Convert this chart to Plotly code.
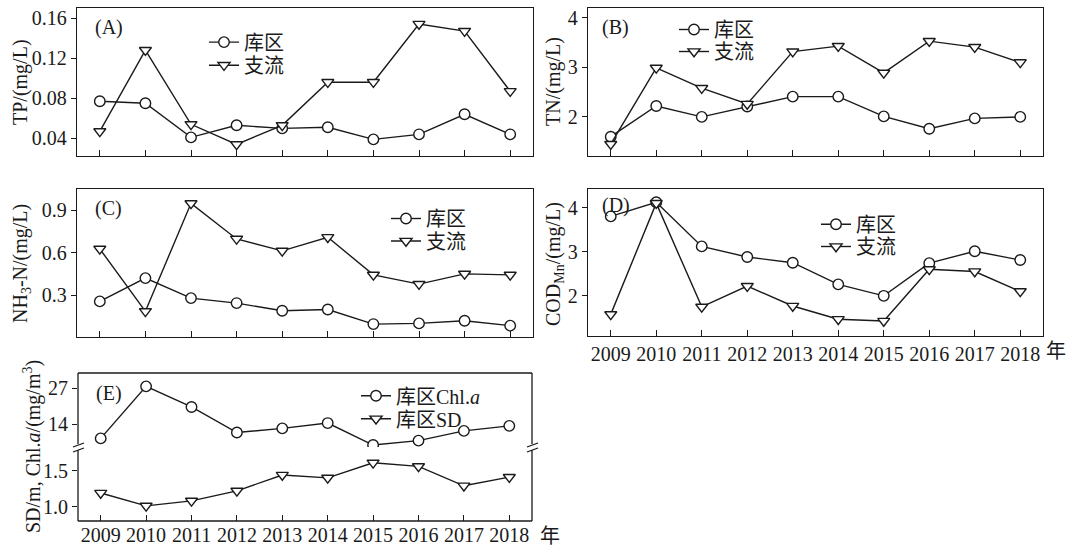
import plotly.graph_objects as go

years = [2009, 2010, 2011, 2012, 2013, 2014, 2015, 2016, 2017, 2018]
year_labels = [str(y) for y in years]

tp_reservoir = [0.077, 0.075, 0.041, 0.053, 0.050, 0.051, 0.039, 0.044, 0.064, 0.044]
tp_tributary = [0.047, 0.128, 0.054, 0.034, 0.053, 0.096, 0.096, 0.154, 0.147, 0.087]

tn_reservoir = [1.60, 2.22, 2.00, 2.21, 2.41, 2.41, 2.01, 1.76, 1.97, 2.00]
tn_tributary = [1.45, 2.99, 2.58, 2.26, 3.32, 3.43, 2.89, 3.53, 3.41, 3.10]

nh3_reservoir = [0.258, 0.422, 0.281, 0.246, 0.192, 0.201, 0.098, 0.103, 0.122, 0.087]
nh3_tributary = [0.628, 0.188, 0.949, 0.698, 0.614, 0.710, 0.445, 0.380, 0.452, 0.445]

cod_reservoir = [3.80, 4.12, 3.12, 2.88, 2.75, 2.26, 2.00, 2.74, 3.01, 2.81]
cod_tributary = [1.58, 4.10, 1.75, 2.22, 1.77, 1.47, 1.43, 2.60, 2.55, 2.10]

chla_reservoir = [8.9, 27.6, 20.2, 11.0, 12.5, 14.4, 6.5, 8.1, 11.6, 13.4]
sd_reservoir = [1.19, 1.01, 1.08, 1.22, 1.44, 1.40, 1.61, 1.56, 1.29, 1.41]

W, H = 1073, 549
def px(x):
    return x / W
def py(y):
    return 1 - y / H

FONT = "Liberation Serif, Times New Roman, Noto Sans CJK SC, serif"
INK = "#1a1a1a"

fig = go.Figure()

def add(x, y, name, sym, xa, ya, leg):
    fig.add_trace(go.Scatter(
        x=x, y=y, name=name, mode="lines+markers", xaxis=xa, yaxis=ya, legend=leg,
        line=dict(color=INK, width=1.4),
        marker=dict(symbol=sym, size=10.5, color="white", line=dict(color=INK, width=1.4)),
    ))

add(years, tp_reservoir, "库区", "circle", "x", "y", "legend")
add(years, tp_tributary, "支流", "triangle-down", "x", "y", "legend2")
add(years, tn_reservoir, "库区", "circle", "x2", "y2", "legend3")
add(years, tn_tributary, "支流", "triangle-down", "x2", "y2", "legend4")
add(years, nh3_reservoir, "库区", "circle", "x3", "y3", "legend5")
add(years, nh3_tributary, "支流", "triangle-down", "x3", "y3", "legend6")
add(years, cod_reservoir, "库区", "circle", "x4", "y4", "legend7")
add(years, cod_tributary, "支流", "triangle-down", "x4", "y4", "legend8")
add(years, chla_reservoir, "库区Chl.<i>a</i>", "circle", "x5", "y6", "legend9")
add(years, sd_reservoir, "库区SD", "triangle-down", "x5", "y5", "legend10")

tickfont = dict(family=FONT, size=20, color=INK)

def xaxis(dom, anchor, labels, frame=True):
    return dict(domain=dom, anchor=anchor, range=[2008.5, 2018.5], tickvals=years,
                ticktext=year_labels, showticklabels=labels, ticks="inside", ticklen=6,
                tickwidth=1.2, tickcolor=INK, showline=frame, mirror=frame, linecolor=INK,
                linewidth=1.3, showgrid=False, zeroline=False, tickfont=tickfont)

def yaxis(dom, anchor, rng, tv, tt, frame=True):
    return dict(domain=dom, anchor=anchor, range=rng, tickvals=tv, ticktext=tt,
                ticks="outside", ticklen=5, tickwidth=1.2, tickcolor=INK,
                showline=frame, mirror=frame, linecolor=INK, linewidth=1.3,
                showgrid=False, zeroline=False, tickfont=tickfont)

left = [px(77), px(533)]
right = [px(588), px(1043)]
top = [py(156), py(8)]
mid = [py(337), py(189)]

fig.update_layout(
    width=W, height=H, margin=dict(l=0, r=0, t=0, b=0),
    paper_bgcolor="white", plot_bgcolor="white",
    font=dict(family=FONT, size=20, color=INK),
    xaxis=xaxis(left, "y", False),
    yaxis=yaxis(top, "x", [0.0224, 0.170], [0.04, 0.08, 0.12, 0.16], ["0.04", "0.08", "0.12", "0.16"]),
    xaxis2=xaxis(right, "y2", False),
    yaxis2=yaxis(top, "x2", [1.21, 4.2], [2, 3, 4], ["2", "3", "4"]),
    xaxis3=xaxis(left, "y3", False),
    yaxis3=yaxis(mid, "x3", [0.007, 1.05], [0.3, 0.6, 0.9], ["0.3", "0.6", "0.9"]),
    xaxis4=xaxis(right, "y4", True),
    yaxis4=yaxis([py(336), py(189)], "x4", [1.09, 4.42], [2, 3, 4], ["2", "3", "4"]),
    xaxis5=xaxis([px(78), px(532)], "y5", True, frame=False),
    yaxis5=yaxis([py(521), py(447)], "x5", [0.80, 1.83], [1.0, 1.5], ["1.0", "1.5"], frame=False),
    yaxis6=yaxis([py(447), py(373)], "x5", [5.8, 32.4], [14, 27], ["14", "27"], frame=False),
)

def leg(x, row_center):
    return dict(x=px(x), y=py(row_center - 18), xanchor="left", yanchor="top",
                bgcolor="rgba(0,0,0,0)", borderwidth=0,
                font=dict(family=FONT, size=20, color=INK), itemwidth=30, tracegroupgap=0)

fig.update_layout(
    showlegend=True,
    legend=leg(204, 40.6), legend2=leg(204, 63.7),
    legend3=leg(674, 28), legend4=leg(674, 50),
    legend5=leg(386, 217), legend6=leg(386, 239.5),
    legend7=leg(816, 222.7), legend8=leg(816, 245),
    legend9=leg(356, 394.3), legend10=leg(356, 417.3),
)

# frame of panel E with axis-break marks
shapes = []
def seg(x0, y0, x1, y1, w=1.3):
    shapes.append(dict(type="line", xref="paper", yref="paper", x0=px(x0), y0=py(y0),
                       x1=px(x1), y1=py(y1), line=dict(color=INK, width=w)))
seg(78, 373, 532, 373)
seg(78, 521, 532, 521)
for xe in (78, 532):
    seg(xe, 373, xe, 444)
    seg(xe, 450, xe, 521)
    seg(xe - 5, 447, xe + 6, 443)
    seg(xe - 5, 452, xe + 6, 448)
fig.update_layout(shapes=shapes)

ann = []
def text(x, y, s, angle=0, xanchor="center", size=20):
    ann.append(dict(xref="paper", yref="paper", x=px(x), y=py(y), text=s, showarrow=False,
                    textangle=angle, xanchor=xanchor, yanchor="middle",
                    font=dict(family=FONT, size=size, color=INK)))

text(93, 28, "(A)", xanchor="left")
text(600, 27, "(B)", xanchor="left")
text(93, 208, "(C)", xanchor="left")
text(600, 205, "(D)", xanchor="left")
text(94, 393, "(E)", xanchor="left")

text(21, 82, "TP/(mg/L)", angle=-90)
text(554, 82, "TN/(mg/L)", angle=-90)
text(21, 264, "NH<sub>3</sub>-N/(mg/L)", angle=-90)
text(554, 264, "COD<sub>Mn</sub>/(mg/L)", angle=-90)
text(32, 447, "SD/m, Chl.<i>a</i>/(mg/m<sup>3</sup>)", angle=-90)

text(1056, 351, "年")
text(550, 536, "年")
fig.update_layout(annotations=ann)

fig.write_html("out.html", config={"displayModeBar": False},
               post_script="document.body.style.margin='0px';document.body.style.overflow='hidden';")
